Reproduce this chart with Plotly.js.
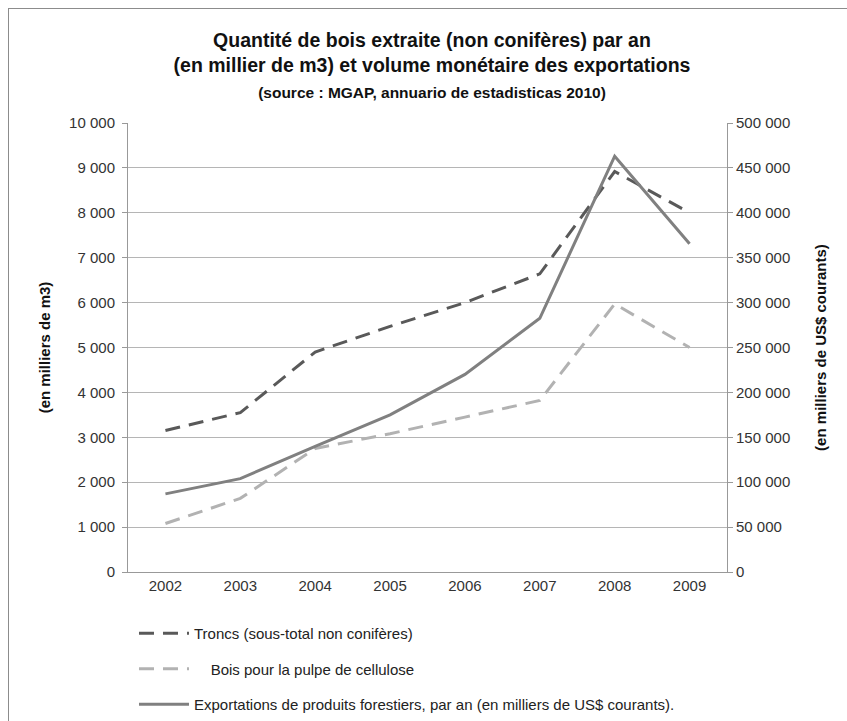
<!DOCTYPE html>
<html>
<head>
<meta charset="utf-8">
<script src="https://cdn.plot.ly/plotly-3.0.1.min.js"></script>
<style>
html,body{margin:0;padding:0;background:#fff;}
#wrap{position:relative;width:847px;height:721px;}
#chart{width:847px;height:721px;}
#frame{position:absolute;left:8px;top:8px;width:860px;height:760px;border:1px solid #8c8c8c;pointer-events:none;}
</style>
</head>
<body>
<div id="wrap"><div id="chart"></div><div id="frame"></div></div>
<script>
const years = ['2002','2003','2004','2005','2006','2007','2008','2009'];
const troncs = [3150, 3550, 4900, 5470, 6000, 6640, 8920, 8000];
const pulpe = [1080, 1640, 2750, 3080, 3450, 3820, 5970, 5000];
const exportations = [87000, 104000, 140000, 175000, 220000, 282500, 463000, 365500];
const leftTicks = [0,1000,2000,3000,4000,5000,6000,7000,8000,9000,10000];
const rightTicks = [0,50000,100000,150000,200000,250000,300000,350000,400000,450000,500000];

const fontFam = '"Liberation Sans", Arial, sans-serif';
const traces = [
  {x: years, y: troncs, type:'scatter', mode:'lines', name:'Troncs (sous-total non conifères)',
   line:{color:'#595959', width:3, dash:'15px,9px'}, legendgroup:'a'},
  {x: years, y: pulpe, type:'scatter', mode:'lines', name:'&nbsp;&nbsp;&nbsp;&nbsp;Bois pour la pulpe de cellulose',
   line:{color:'#b2b2b2', width:3, dash:'15px,9px'}, legendgroup:'b'},
  {x: years, y: exportations, type:'scatter', mode:'lines', yaxis:'y2',
   name:'Exportations de produits forestiers, par an (en milliers de US$ courants).',
   line:{color:'#808080', width:3}, legendgroup:'c'}
];
const layout = {
  width:847, height:721,
  paper_bgcolor:'#fff', plot_bgcolor:'#fff',
  separators:', ',
  margin:{l:128, r:120, t:123, b:149, autoexpand:false},
  font:{family:fontFam, size:15, color:'#333'},
  title:{
    text:'<b>Quantité de bois extraite (non conifères) par an<br>(en millier de m3) et volume monétaire des exportations<br><span style="font-size:15.5px">(source : MGAP, annuario de estadisticas 2010)</span></b>',
    font:{family:fontFam, size:19.5, color:'#111'},
    x:432/847, xref:'container', xanchor:'center',
    y:1-47/721, yref:'container', yanchor:'top'
  },
  xaxis:{type:'category', range:[-0.5,7.5], showgrid:false, showline:true, linecolor:'#999', linewidth:1,
    ticks:'', tickfont:{size:15, color:'#333'}, fixedrange:true, zeroline:false},
  yaxis:{range:[0,10000], tickvals:leftTicks, tickformat:',d', showgrid:true, gridcolor:'#b5b5b5', gridwidth:1,
    showline:true, linecolor:'#999', ticks:'outside', ticklen:5, tickcolor:'#999', zeroline:false,
    tickfont:{size:15, color:'#333'}, ticklabelstandoff:4,
    title:{text:'<b>(en milliers de m3)</b>', font:{size:15, color:'#111'}, standoff:14}},
  yaxis2:{range:[0,500000], tickvals:rightTicks, tickformat:',d', overlaying:'y', side:'right', showgrid:false,
    showline:true, linecolor:'#999', ticks:'outside', ticklen:5, tickcolor:'#999', zeroline:false,
    tickfont:{size:15, color:'#333'},
    title:{text:'<b>(en milliers de US$ courants)</b>', font:{size:15, color:'#111'}, standoff:26}},
  showlegend:true,
  legend:{orientation:'v', x:0.01, xanchor:'left', y:-0.1, yanchor:'top', traceorder:'grouped',
    tracegroupgap:13, itemwidth:50, font:{size:15, color:'#222'}, bgcolor:'rgba(0,0,0,0)'}
};
Plotly.newPlot('chart', traces, layout, {displayModeBar:false, staticPlot:true});
</script>
</body>
</html>
